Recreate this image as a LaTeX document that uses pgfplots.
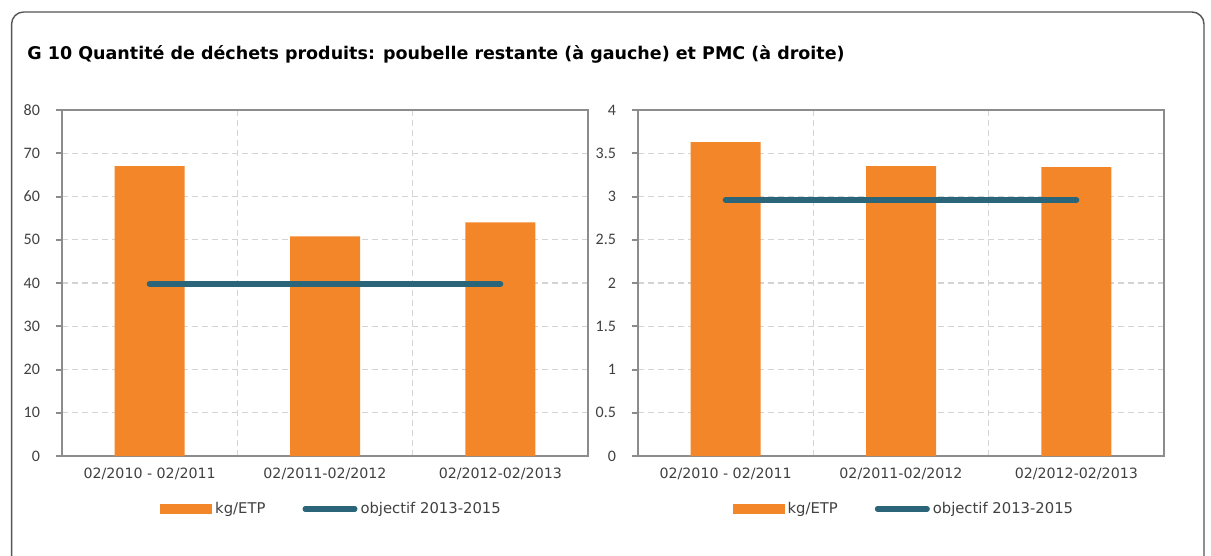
\documentclass[border=0pt]{standalone}
\usepackage{fontspec}
\setmainfont{DejaVu Sans}
\newfontfamily\calib{Carlito}
\usepackage{pgfplots}
\pgfplotsset{compat=1.18}

\definecolor{barorange}{HTML}{F4862A}
\definecolor{objline}{HTML}{2B6579}
\definecolor{axgray}{HTML}{8C8C8C}
\definecolor{gridgray}{HTML}{D4D4D4}
\definecolor{txtgray}{HTML}{404040}
\definecolor{framegray}{HTML}{555555}

\pgfplotsset{
  dechets/.style={
    scale only axis, width=263pt, height=173pt,
    xmin=0.5, xmax=3.5, ymin=0,
    axis line style={axgray, line width=1.2pt},
    tick align=outside, tick pos=left,
    xtick={1,2,3},
    xticklabels={02/2010 - 02/2011, 02/2011-02/2012, 02/2012-02/2013},
    x tick style={draw=none},
    minor xtick={1.5,2.5}, xminorgrids,
    minor x tick style={draw=none},
    extra x ticks={0.5,1.5,2.5,3.5}, extra x tick labels={},
    extra x tick style={major tick length=3pt,
      tick style={axgray, line width=1pt}},
    y tick style={axgray, line width=1pt}, major tick length=3pt,
    ymajorgrids,
    major grid style={gridgray, line width=0.6pt, dash pattern=on 3pt off 2pt},
    minor grid style={gridgray, line width=0.6pt, dash pattern=on 3pt off 2pt},
    xticklabel style={font=\fontsize{7.1}{9}\selectfont, text=txtgray, yshift=0.5pt},
    yticklabel style={font=\calib\fontsize{8}{9.6}\selectfont, text=txtgray, xshift=-4.5pt},
    /pgf/number format/assume math mode=true,
    legend columns=2,
    legend style={draw=none, fill=none, inner sep=0pt, anchor=west,
      font=\fontsize{7.4}{9}\selectfont, text=txtgray,
      nodes={inner sep=1.5pt},
      /tikz/every even column/.append style={column sep=17pt}},
  },
  barleg/.style={legend image code/.code={\fill[barorange] (0pt,-2.3pt) rectangle (26pt,2.3pt);}},
  lineleg/.style={legend image code/.code={\draw[objline, line width=2.6pt, line cap=round] (1.3pt,0pt) -- (26.2pt,0pt);}},
}

\begin{document}
\begin{tikzpicture}
\useasboundingbox (0,0) rectangle (605.5pt,-278pt);
\begin{scope}
\clip (0,0) rectangle (605.5pt,-278pt);
\draw[framegray, line width=0.7pt, rounded corners=6pt] (5.8pt,-6pt) rectangle (602pt,-320pt);
\end{scope}
\node[anchor=base west, inner sep=0pt, font=\bfseries\fontsize{8.75}{11}\selectfont, text=black]
  at (13.5pt,-30pt) {G 10 Quantité de déchets produits: poubelle restante (à gauche) et PMC (à droite)};

\begin{axis}[dechets, at={(31pt,-228pt)}, anchor=south west,
  ymax=80, ytick={0,10,...,80},
  legend style={at={(0.186,-0.153)}}]
\addplot[ybar, bar width=35pt, fill=barorange, draw=none, barleg]
  coordinates {(1,67) (2,50.8) (3,54)};
\addlegendentry{kg/ETP}
\addplot[objline, line width=3pt, line cap=round, lineleg]
  coordinates {(1,39.8) (3,39.8)};
\addlegendentry{objectif 2013-2015}
\end{axis}

\begin{axis}[dechets, at={(319pt,-228pt)}, anchor=south west,
  ymax=4, ytick={0,0.5,...,4},
  legend style={at={(0.179,-0.153)}}]
\addplot[ybar, bar width=35pt, fill=barorange, draw=none, barleg]
  coordinates {(1,3.63) (2,3.35) (3,3.34)};
\addlegendentry{kg/ETP}
\addplot[objline, line width=3pt, line cap=round, lineleg]
  coordinates {(1,2.96) (3,2.96)};
\addlegendentry{objectif 2013-2015}
\end{axis}
\end{tikzpicture}
\end{document}
